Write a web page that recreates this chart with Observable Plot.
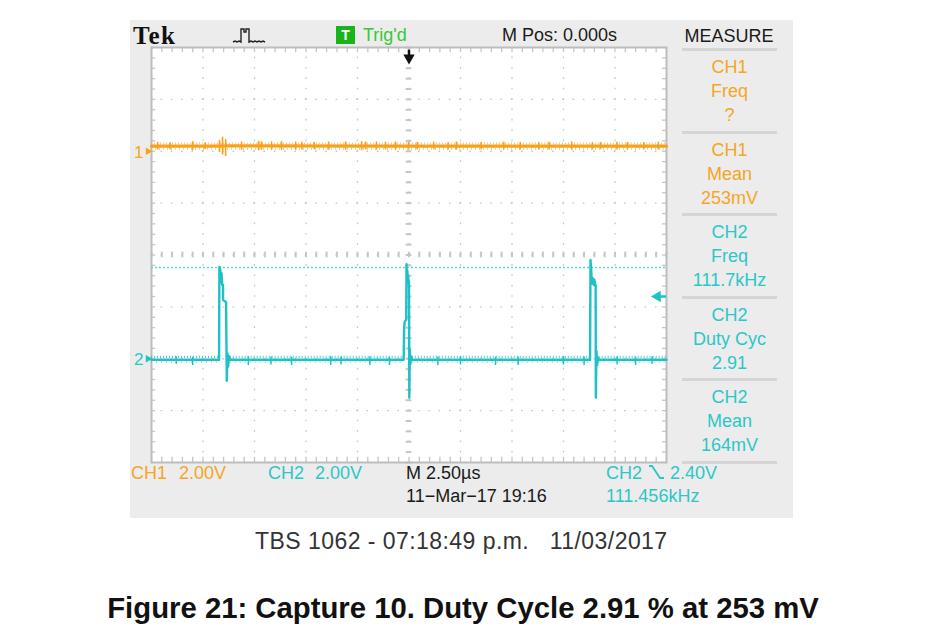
<!DOCTYPE html>
<html><head><meta charset="utf-8">
<script src="https://cdn.jsdelivr.net/npm/d3@7"></script>
<script src="https://cdn.jsdelivr.net/npm/@observablehq/plot@0.6"></script>
<style>
html,body{margin:0;padding:0;background:#fff;}
body{width:932px;height:643px;position:relative;overflow:hidden;font-family:"Liberation Sans",Arial,sans-serif;}
.t{position:absolute;white-space:pre;}
#panel{position:absolute;left:130px;top:20px;width:663px;height:498px;background:#ececec;}
#chart{position:absolute;left:130px;top:40px;}
.sep{position:absolute;left:682px;width:95px;height:3px;background:#d5d5d5;}
</style></head>
<body>
<div id="panel"></div>
<div id="chart"></div>
<script>
// ---------- data (time in µs, volts) ----------
const ch1Time = [-12.5, -9.3, -8.8, 0, 9, 12.5];
const ch1Volt = [0.2, 0.2, 0.21, 0.2, 0.2, 0.2];
const ch1SpikeTime = [-12.2, -11.6, -10.5, -9.9, -9.2, -9.05, -8.9, -8.13, -7.3, -7.16, -6.67, -6.19, -5.5, -5.2, -4.6, -3.9, -3.08, -2.3, -2.1, -1.58, -1.14, -0.65, -0.02, 0.4, 1.2, 1.9, 2.3, 3.5, 4.6, 5.4, 6.3, 6.8, 7.9, 8.9, 9.3, 10.1, 10.6, 11.4, 12.1];
const ch1SpikeLow  = [0.05, 0.06, 0.02, 0.06, -0.05, -0.15, -0.2, 0.04, 0.02, 0.04, 0.04, 0.03, 0.04, 0.05, 0.06, 0.04, 0.04, 0.02, 0.05, 0.04, 0.05, 0.04, 0.05, 0.05, 0.06, 0.05, 0.04, 0.06, 0.05, 0.05, 0.06, 0.05, 0.04, 0.05, 0.06, 0.05, 0.04, 0.06, 0.05];
const ch1SpikeHigh = [0.34, 0.33, 0.37, 0.33, 0.42, 0.54, 0.45, 0.36, 0.38, 0.36, 0.36, 0.37, 0.36, 0.35, 0.34, 0.36, 0.36, 0.37, 0.35, 0.36, 0.35, 0.36, 0.35, 0.34, 0.35, 0.34, 0.36, 0.34, 0.35, 0.34, 0.34, 0.35, 0.36, 0.34, 0.34, 0.35, 0.34, 0.34, 0.35];

const ch2Time = [-12.5, -9.22, -9.205, -9.18, -9.16, -9.13, -9.1, -9.07, -9.03, -9.025, -8.88, -8.845, -8.81, -8.78, -8.74, -8.68,
  -0.26, -0.235, -0.21, -0.135, -0.12, -0.1, -0.08, -0.06, -0.04, -0.02, 0.0, 0.015, 0.04, 0.07, 0.1, 0.16,
  8.79, 8.81, 8.84, 8.86, 8.89, 8.93, 8.97, 9.0, 9.04, 9.06, 9.07, 9.1, 9.13, 9.17, 9.23, 12.5];
const ch2Volt = [-0.04, -0.04, 3.54, 3.0, 3.45, 2.95, 3.3, 2.85, 2.85, 2.27, 2.18, -0.85, 0.2, -0.3, 0.1, -0.04,
  -0.04, 1.2, 1.43, 1.5, 3.65, 3.0, 3.4, 2.95, 3.2, 2.9, 3.0, -1.5, 0.35, -0.2, 0.1, -0.04,
  -0.04, 3.81, 3.5, 3.15, 2.9, 3.1, 2.85, 3.05, 2.8, 2.85, -1.5, 0.3, -0.25, 0.05, -0.04, -0.04];
const ch2SpikeTime = [-11.3, -10.5, -7.8, -6.7, -5.7, -3.8, -3.3, -1.9, -0.95, 1.4, 2.5, 4.2, 5.3, 7.5, 8.5, 10.1, 11.0, 11.8];
const ch2SpikeLow  = [-0.22, -0.26, -0.26, -0.24, -0.26, -0.26, -0.24, -0.26, -0.26, -0.26, -0.24, -0.26, -0.26, -0.24, -0.26, -0.24, -0.26, -0.22];
const ch2SpikeHigh = [0.08, 0.06, 0.08, 0.07, 0.06, 0.08, 0.07, 0.08, 0.06, 0.07, 0.08, 0.06, 0.07, 0.08, 0.07, 0.07, 0.06, 0.08];
const ch2QuietStart = [-12.5, -8.68, 0.16, 9.23];
const ch2QuietEnd   = [-9.22, -0.26, 8.79, 12.5];

const ch1Offset = 2, ch2Offset = -2, voltsPerDiv = 2;
const triggerLevel = 2.40;     // V (CH2)
const cursorLevel = 3.52;      // dotted level line (CH2)

const topTexts = ["Tek", "Trig'd", "M Pos: 0.000s", "MEASURE"];
const measureLabels = [["CH1", "Freq", "?"], ["CH1", "Mean", "253mV"], ["CH2", "Freq", "111.7kHz"], ["CH2", "Duty Cyc", "2.91"], ["CH2", "Mean", "164mV"]];
const measureChannel = ["CH1", "CH1", "CH2", "CH2", "CH2"];
const bottomTexts = ["CH1", "2.00V", "CH2", "2.00V", "M 2.50\u00b5s", "11\u2212Mar\u221217 19:16", "CH2", "2.40V", "111.456kHz"];
const captionText = "TBS 1062 - 07:18:49 p.m.   11/03/2017";
const titleText = "Figure 21: Capture 10. Duty Cycle 2.91 % at 253 mV";

// ---------- colours ----------
const ORANGE = "#f7a11c", CYAN = "#1ec2c4", CYAN_T = "#2cc6c8", ORANGE_T = "#f7a524", GRID = "#c6c6c6";

const ch1 = ch1Time.map((t, i) => ({t, v: ch1Volt[i]}));
const ch1S = ch1SpikeTime.map((t, i) => ({t, lo: ch1SpikeLow[i], hi: ch1SpikeHigh[i]}));
const ch2 = ch2Time.map((t, i) => ({t, v: ch2Volt[i]}));
const ch2S = ch2SpikeTime.map((t, i) => ({t, lo: ch2SpikeLow[i], hi: ch2SpikeHigh[i]}));
const quiet = ch2QuietStart.map((a, i) => ({a, b: ch2QuietEnd[i]}));
const d1 = v => v / voltsPerDiv + ch1Offset;
const d2 = v => v / voltsPerDiv + ch2Offset;

const majorX = d3.range(-10, 12.5, 2.5).filter(x => Math.abs(x) > 1e-9);
const majorY = [-3, -2, -1, 1, 2, 3];
const minorX = d3.range(-12.5, 12.51, 0.5);
const minorY = d3.range(-4, 4.01, 0.2);

const chart = Plot.plot({
  width: 550, height: 430,
  marginLeft: 21, marginRight: 14, marginTop: 7, marginBottom: 8,
  x: {domain: [-12.5, 12.5], axis: null},
  y: {domain: [-4, 4], axis: null},
  style: {background: "transparent", overflow: "visible"},
  marks: [
    Plot.frame({fill: "white", stroke: "none"}),
    Plot.ruleX(majorX, {stroke: GRID, strokeWidth: 1.3, strokeDasharray: "1.6,8.775", strokeDashoffset: 0.8}),
    Plot.ruleY(majorY, {stroke: GRID, strokeWidth: 1.3, strokeDasharray: "1.6,8.7", strokeDashoffset: 0.8}),
    Plot.ruleX([0], {stroke: GRID, strokeWidth: 1.3, strokeDasharray: "1.6,8.775", strokeDashoffset: 0.8}),
    Plot.ruleY([0], {stroke: GRID, strokeWidth: 1.3, strokeDasharray: "1.6,8.7", strokeDashoffset: 0.8}),
    Plot.ruleY(minorY, {y: d => d, x1: -0.14, x2: 0.14, stroke: GRID, strokeWidth: 2}),
    Plot.ruleX(minorX, {x: d => d, y1: -0.055, y2: 0.055, stroke: GRID, strokeWidth: 2}),
    Plot.ruleX(minorX, {x: d => d, y1: 4, y2: 3.9, stroke: GRID, strokeWidth: 1.3}),
    Plot.ruleX(minorX, {x: d => d, y1: -4, y2: -3.9, stroke: GRID, strokeWidth: 1.3}),
    Plot.ruleY(minorY, {y: d => d, x1: -12.5, x2: -12.3, stroke: GRID, strokeWidth: 1.3}),
    Plot.ruleY(minorY, {y: d => d, x1: 12.5, x2: 12.3, stroke: GRID, strokeWidth: 1.3}),
    Plot.frame({stroke: "#bdbdbd", strokeWidth: 2}),
    // dotted level line
    Plot.ruleY([cursorLevel], {y: d2, stroke: "#58d2d2", strokeWidth: 1.6, strokeDasharray: "2,2"}),
    // CH1
    Plot.ruleY([ch1Volt[0]], {y: v => d1(v) + 0.05, x1: -12.5, x2: 12.5, stroke: ORANGE, strokeOpacity: 0.6, strokeWidth: 2, strokeDasharray: "1,2"}),
    Plot.ruleY([ch1Volt[0]], {y: v => d1(v) - 0.05, x1: -12.5, x2: 12.5, stroke: ORANGE, strokeOpacity: 0.6, strokeWidth: 2, strokeDasharray: "1,3"}),
    Plot.line(ch1, {x: "t", y: d => d1(d.v), stroke: ORANGE, strokeWidth: 3.2}),
    Plot.ruleX(ch1S, {x: "t", y1: d => d1(d.lo), y2: d => d1(d.hi), stroke: ORANGE, strokeWidth: 1.6}),
    // CH2
    Plot.ruleY(quiet, {y: () => d2(-0.04) + 0.055, x1: "a", x2: "b", stroke: CYAN, strokeOpacity: 0.75, strokeWidth: 2.2, strokeDasharray: "1,2"}),
    Plot.ruleY(quiet, {y: () => d2(-0.04) - 0.045, x1: "a", x2: "b", stroke: CYAN, strokeOpacity: 0.5, strokeWidth: 1.6, strokeDasharray: "1,4"}),
    Plot.line(ch2, {x: "t", y: d => d2(d.v), stroke: CYAN, strokeWidth: 2.4}),
    Plot.ruleX(ch2S, {x: "t", y1: d => d2(d.lo), y2: d => d2(d.hi), stroke: CYAN, strokeWidth: 1.5}),
    // ground markers
    Plot.text(["1"], {x: -12.5, y: ch1Offset, text: d => d, dx: -8, dy: 1, textAnchor: "end", fill: ORANGE_T, fontSize: 17, fontFamily: "Liberation Sans, Arial, sans-serif"}),
    Plot.dot([0], {x: -12.5, y: ch1Offset, dx: -3.5, symbol: "triangle", rotate: 90, r: 2.8, fill: ORANGE, stroke: "none"}),
    Plot.text(["2"], {x: -12.5, y: ch2Offset, text: d => d, dx: -8, dy: 1, textAnchor: "end", fill: CYAN_T, fontSize: 17, fontFamily: "Liberation Sans, Arial, sans-serif"}),
    Plot.dot([0], {x: -12.5, y: ch2Offset, dx: -3.5, symbol: "triangle", rotate: 90, r: 2.8, fill: CYAN, stroke: "none"}),
    // trigger level arrow (right)
    Plot.ruleY([triggerLevel], {y: d2, x1: 12.1, x2: 12.5, stroke: CYAN, strokeWidth: 2.5}),
    Plot.dot([triggerLevel], {x: 12.5, y: d2, dx: -9, symbol: "triangle", rotate: -90, r: 4.2, fill: CYAN, stroke: "none"}),
    // trigger position arrow (top)
    Plot.ruleX([0], {x: d => d, y1: 3.95, y2: 3.83, stroke: "#111", strokeWidth: 2.5}),
    Plot.dot([0], {x: d => d, y: 3.8, symbol: "triangle", rotate: 180, r: 4.2, fill: "#111", stroke: "none"})
  ]
});
document.getElementById("chart").appendChild(chart);

// ---------- scope text overlay ----------
function label(txt, x, base, size, color, opts = {}) {
  const d = document.createElement("div");
  d.className = "t";
  d.textContent = txt;
  const fam = opts.family || '"Liberation Sans", Arial, sans-serif';
  d.style.cssText += `left:${x}px;top:${base - 0.8465 * size}px;font-size:${size}px;line-height:${size}px;color:${color};font-family:${fam};` +
    (opts.bold ? "font-weight:bold;" : "") + (opts.center ? "transform:translateX(-50%);" : "") + (opts.ls ? `letter-spacing:${opts.ls}px;` : "");
  document.body.appendChild(d);
  return d;
}
const SCOPE = 18;
label(topTexts[0], 133, 44, 25, "#111", {bold: true, family: '"Liberation Serif", "Times New Roman", serif', ls: 1.2});
label(topTexts[1], 363, 41, SCOPE, "#36c936");
label(topTexts[2], 502, 41, SCOPE, "#1a1a1a");
label(topTexts[3], 729, 42, SCOPE, "#1a1a1a", {center: true});

// green trigger box
const box = document.createElement("div");
box.style.cssText = "position:absolute;left:336px;top:26px;width:19px;height:18px;background:#19b419;color:#fff;font:bold 14px/18px 'Liberation Sans',Arial,sans-serif;text-align:center;";
box.textContent = "T";
document.body.appendChild(box);

// acquisition icon
const ic = document.createElementNS("http://www.w3.org/2000/svg", "svg");
ic.setAttribute("width", 40); ic.setAttribute("height", 20);
ic.style.cssText = "position:absolute;left:230px;top:26px;";
ic.innerHTML = '<polyline points="3,16 5,15 7,16 9,15 11,16 11,3 14,3 14,6 16,6 16,3 19,3 19,16 21,15 23,16 25,15 27,16 29,15 31,16 33,15 35,16" fill="none" stroke="#222" stroke-width="1.4"/>';
document.body.appendChild(ic);

// measurement panel
const sepY = [48, 131, 213, 296, 378, 461];
sepY.forEach(y => { const s = document.createElement("div"); s.className = "sep"; s.style.top = y + "px"; document.body.appendChild(s); });
measureLabels.forEach((lines, k) => {
  const col = measureChannel[k] === "CH1" ? ORANGE_T : CYAN_T;
  lines.forEach((txt, j) => label(txt, 729.5, sepY[k] + 25 + j * 24, SCOPE, col, {center: true}));
});

// bottom status rows
label(bottomTexts[0], 131, 479, SCOPE, ORANGE_T);
label(bottomTexts[1], 179, 479, SCOPE, ORANGE_T);
label(bottomTexts[2], 268, 479, SCOPE, CYAN_T);
label(bottomTexts[3], 315, 479, SCOPE, CYAN_T);
label(bottomTexts[4], 406, 479, SCOPE, "#1a1a1a");
label(bottomTexts[5], 406, 502, SCOPE, "#1a1a1a");
label(bottomTexts[6], 606, 479, SCOPE, CYAN_T);
label(bottomTexts[7], 670, 479, SCOPE, CYAN_T);
label(bottomTexts[8], 606, 502, SCOPE, CYAN_T);
const fe = document.createElementNS("http://www.w3.org/2000/svg", "svg");
fe.setAttribute("width", 18); fe.setAttribute("height", 18);
fe.style.cssText = "position:absolute;left:648px;top:464px;";
fe.innerHTML = '<polyline points="1,2 4,2 12,14 16,14" fill="none" stroke="' + CYAN_T + '" stroke-width="1.8"/>';
document.body.appendChild(fe);

// captions below the screen
label(captionText, 255, 549, 23, "#333", {ls: 0.45});
label(titleText, 463, 618, 29.3, "#111", {bold: true, center: true});
</script>
</body></html>
